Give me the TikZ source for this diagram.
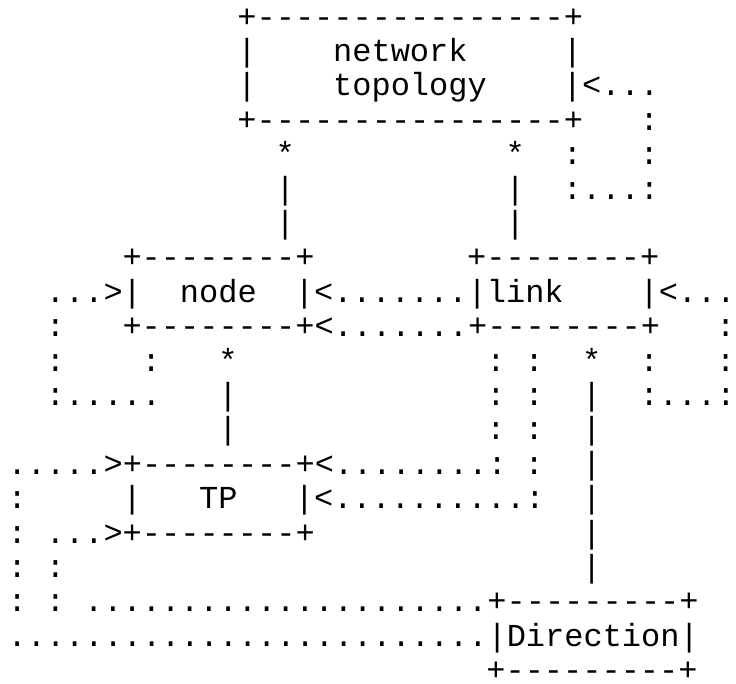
\documentclass[tikz,border=0pt]{standalone}
\usepackage{fontspec}
\setmonofont{Liberation Mono}
\tikzset{
  x=1pt,y=1pt,
  asc/.style={font=\ttfamily\fontsize{32}{32}\selectfont, inner sep=0pt, outer sep=0pt, anchor=base west, text=black, text depth=0pt},
}
\newcommand{\ac}[4]{\node[asc] (#1) at ({7.6+19.15*#2},{-27-34.4*(#3-1)}) {#4};}
\begin{document}
\begin{tikzpicture}
\fill[white] (0,0) rectangle (736,-683);
\useasboundingbox (0,0) rectangle (736,-683);
% line 1
\ac{a1}{12}{1}{+----------------+}
% line 2
\ac{b1}{12}{2}{|}
\ac{b2}{17}{2}{network}
\ac{b3}{29}{2}{|}
% line 3
\ac{c1}{12}{3}{|}
\ac{c2}{17}{3}{topology}
\ac{c3}{29}{3}{|<...}
% line 4
\ac{d1}{12}{4}{+----------------+}
\ac{d2}{33}{4}{:}
% line 5
\ac{e1}{14}{5}{*}
\ac{e2}{26}{5}{*}
\ac{e3}{29}{5}{:}
\ac{e4}{33}{5}{:}
% line 6
\ac{f1}{14}{6}{|}
\ac{f2}{26}{6}{|}
\ac{f3}{29}{6}{:...:}
% line 7
\ac{g1}{14}{7}{|}
\ac{g2}{26}{7}{|}
% line 8
\ac{h1}{6}{8}{+--------+}
\ac{h2}{24}{8}{+--------+}
% line 9
\ac{i1}{2}{9}{...>|}
\ac{i2}{9}{9}{node}
\ac{i3}{15}{9}{|<.......|link}
\ac{i4}{33}{9}{|<...}
% line 10
\ac{j1}{2}{10}{:}
\ac{j2}{6}{10}{+--------+<.......+--------+}
\ac{j3}{37}{10}{:}
% line 11
\ac{k1}{2}{11}{:}
\ac{k2}{7}{11}{:}
\ac{k3}{11}{11}{*}
\ac{k4}{25}{11}{:}
\ac{k5}{27}{11}{:}
\ac{k6}{30}{11}{*}
\ac{k7}{33}{11}{:}
\ac{k8}{37}{11}{:}
% line 12
\ac{l1}{2}{12}{:.....}
\ac{l2}{11}{12}{|}
\ac{l3}{25}{12}{:}
\ac{l4}{27}{12}{:}
\ac{l5}{30}{12}{|}
\ac{l6}{33}{12}{:...:}
% line 13
\ac{m1}{11}{13}{|}
\ac{m2}{25}{13}{:}
\ac{m3}{27}{13}{:}
\ac{m4}{30}{13}{|}
% line 14
\ac{n1}{0}{14}{.....>+--------+<........:}
\ac{n2}{27}{14}{:}
\ac{n3}{30}{14}{|}
% line 15
\ac{o1}{0}{15}{:}
\ac{o2}{6}{15}{|}
\ac{o3}{10}{15}{TP}
\ac{o4}{15}{15}{|<..........:}
\ac{o5}{30}{15}{|}
% line 16
\ac{p1}{0}{16}{:}
\ac{p2}{2}{16}{...>+--------+}
\ac{p3}{30}{16}{|}
% line 17
\ac{q1}{0}{17}{:}
\ac{q2}{2}{17}{:}
\ac{q3}{30}{17}{|}
% line 18
\ac{r1}{0}{18}{:}
\ac{r2}{2}{18}{:}
\ac{r3}{4}{18}{.....................+---------+}
% line 19
\ac{s1}{0}{19}{.........................|Direction|}
% line 20
\ac{t1}{25}{20}{+---------+}
\end{tikzpicture}
\end{document}
